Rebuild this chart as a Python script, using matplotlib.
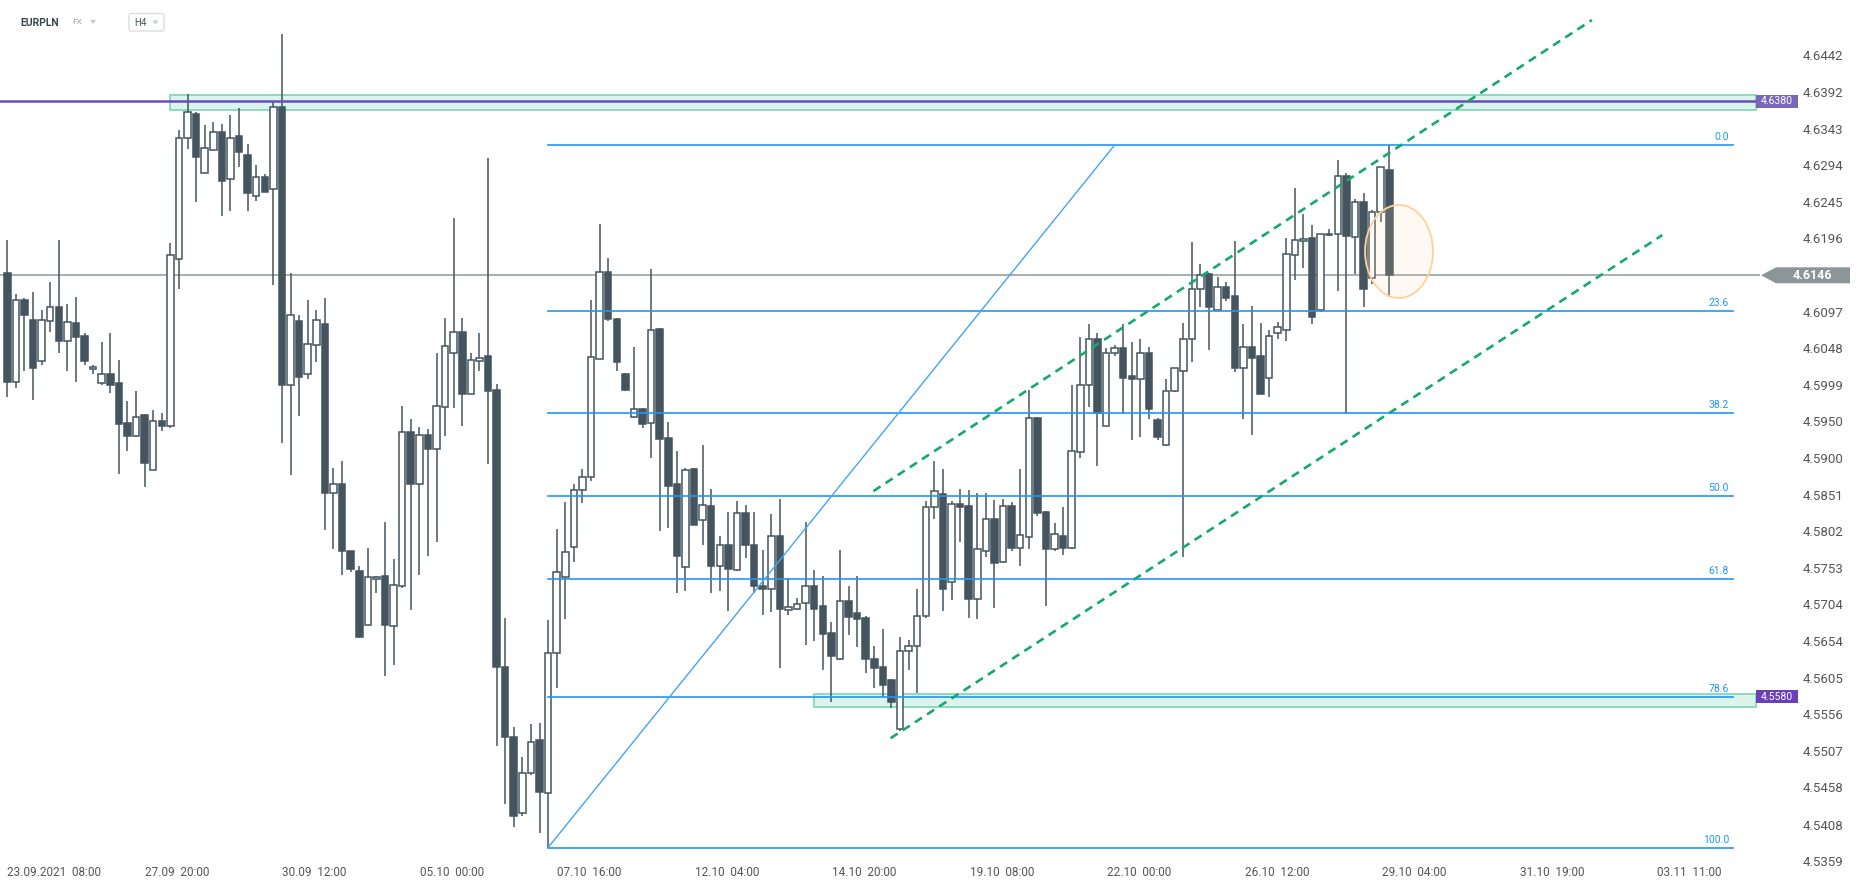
import matplotlib
matplotlib.use('Agg')
import matplotlib.pyplot as plt
from matplotlib.patches import Rectangle, Ellipse, Polygon, FancyBboxPatch
from matplotlib.transforms import blended_transform_factory

plt.rcParams['font.family'] = ['Roboto', 'DejaVu Sans']

# EURPLN H4 candles (oldest first)
opens = [4.6149, 4.6003, 4.6113, 4.6086, 4.6031, 4.6084, 4.6103, 4.6058, 4.6082, 4.6064,
         4.6020, 4.6001, 4.6014, 4.6001, 4.5947, 4.5930, 4.5958, 4.5885, 4.5950, 4.5943,
         4.6168, 4.6331, 4.6363, 4.6284, 4.6315, 4.6338, 4.6275, 4.6333, 4.6308, 4.6253,
         4.6278, 4.6262, 4.6372, 4.5999, 4.6085, 4.6013, 4.6052, 4.6080, 4.5854, 4.5865,
         4.5775, 4.5749, 4.5676, 4.5738, 4.5742, 4.5675, 4.5729, 4.5936, 4.5866, 4.5931,
         4.5913, 4.5969, 4.6042, 4.6070, 4.5987, 4.6031, 4.6037, 4.5992, 4.5619, 4.5526,
         4.5423, 4.5477, 4.5521, 4.5450, 4.5639, 4.5740, 4.5781, 4.5857, 4.5875, 4.6034,
         4.6150, 4.6087, 4.6014, 4.5955, 4.5966, 4.5947, 4.6074, 4.5928, 4.5866, 4.5754,
         4.5886, 4.5817, 4.5836, 4.5755, 4.5783, 4.5750, 4.5827, 4.5783, 4.5729, 4.5725,
         4.5795, 4.5696, 4.5698, 4.5706, 4.5728, 4.5701, 4.5665, 4.5630, 4.5708, 4.5692,
         4.5686, 4.5630, 4.5619, 4.5602, 4.5536, 4.5641, 4.5648, 4.5688, 4.5834, 4.5852,
         4.5734, 4.5838, 4.5836, 4.5711, 4.5776, 4.5819, 4.5761, 4.5836, 4.5780, 4.5794,
         4.5954, 4.5828, 4.5778, 4.5796, 4.5779, 4.5909, 4.5998, 4.6061, 4.5944, 4.6041,
         4.6048, 4.6011, 4.6006, 4.6041, 4.5951, 4.5918, 4.5990, 4.6017, 4.6060, 4.6128,
         4.6148, 4.6100, 4.6130, 4.6118, 4.6021, 4.6049, 4.6038, 4.6008, 4.6069, 4.6073,
         4.6173, 4.6192, 4.6196, 4.6100, 4.6200, 4.6201, 4.6280, 4.6197, 4.6245, 4.6142,
         4.6231, 4.6287]
highs = [4.6193, 4.6121, 4.6115, 4.6124, 4.6100, 4.6137, 4.6193, 4.6107, 4.6117, 4.6068,
         4.6025, 4.6057, 4.6069, 4.6032, 4.5977, 4.5991, 4.5959, 4.5965, 4.5961, 4.6190,
         4.6341, 4.6390, 4.6365, 4.6348, 4.6352, 4.6349, 4.6361, 4.6371, 4.6322, 4.6294,
         4.6282, 4.6380, 4.6470, 4.6149, 4.6093, 4.6113, 4.6100, 4.6116, 4.5887, 4.5896,
         4.5776, 4.5756, 4.5780, 4.5742, 4.5814, 4.5765, 4.5971, 4.5953, 4.5942, 4.5939,
         4.6041, 4.6088, 4.6223, 4.6088, 4.6041, 4.6069, 4.6304, 4.6000, 4.5685, 4.5539,
         4.5499, 4.5543, 4.5544, 4.5683, 4.5805, 4.5841, 4.5866, 4.5886, 4.6113, 4.6215,
         4.6169, 4.6088, 4.6015, 4.6049, 4.5967, 4.6155, 4.6075, 4.5949, 4.5910, 4.5887,
         4.5887, 4.5918, 4.5859, 4.5796, 4.5828, 4.5843, 4.5837, 4.5828, 4.5777, 4.5825,
         4.5845, 4.5739, 4.5713, 4.5815, 4.5750, 4.5742, 4.5680, 4.5777, 4.5728, 4.5742,
         4.5688, 4.5648, 4.5671, 4.5603, 4.5660, 4.5656, 4.5724, 4.5843, 4.5896, 4.5886,
         4.5843, 4.5859, 4.5858, 4.5854, 4.5854, 4.5844, 4.5846, 4.5842, 4.5886, 4.5992,
         4.5955, 4.5829, 4.5813, 4.5834, 4.5999, 4.6063, 4.6080, 4.6068, 4.6048, 4.6052,
         4.6080, 4.6056, 4.6060, 4.6050, 4.5954, 4.6006, 4.6022, 4.6082, 4.6191, 4.6161,
         4.6149, 4.6144, 4.6137, 4.6192, 4.6081, 4.6105, 4.6082, 4.6073, 4.6083, 4.6196,
         4.6263, 4.6228, 4.6214, 4.6202, 4.6208, 4.6301, 4.6284, 4.6248, 4.6257, 4.6234,
         4.6291, 4.6321]
lows = [4.5982, 4.5995, 4.6018, 4.5979, 4.6025, 4.6070, 4.6042, 4.6017, 4.6003, 4.6025,
        4.6013, 4.5998, 4.5988, 4.5879, 4.5910, 4.5929, 4.5862, 4.5884, 4.5937, 4.5941,
        4.6127, 4.6316, 4.6245, 4.6284, 4.6315, 4.6226, 4.6233, 4.6292, 4.6232, 4.6246,
        4.6258, 4.6133, 4.5920, 4.5878, 4.5957, 4.6006, 4.6030, 4.5804, 4.5778, 4.5743,
        4.5747, 4.5659, 4.5676, 4.5719, 4.5608, 4.5622, 4.5726, 4.5696, 4.5743, 4.5769,
        4.5787, 4.5930, 4.5968, 4.5944, 4.5986, 4.6018, 4.5893, 4.5514, 4.5435, 4.5404,
        4.5420, 4.5474, 4.5397, 4.5377, 4.5592, 4.5684, 4.5761, 4.5840, 4.5869, 4.6034,
        4.6084, 4.6018, 4.5991, 4.5954, 4.5941, 4.5900, 4.5802, 4.5807, 4.5719, 4.5722,
        4.5811, 4.5783, 4.5719, 4.5722, 4.5695, 4.5749, 4.5766, 4.5719, 4.5689, 4.5693,
        4.5618, 4.5690, 4.5696, 4.5649, 4.5654, 4.5615, 4.5572, 4.5629, 4.5663, 4.5647,
        4.5612, 4.5592, 4.5580, 4.5564, 4.5534, 4.5616, 4.5585, 4.5686, 4.5819, 4.5695,
        4.5709, 4.5787, 4.5685, 4.5684, 4.5767, 4.5699, 4.5760, 4.5775, 4.5756, 4.5778,
        4.5823, 4.5702, 4.5775, 4.5770, 4.5778, 4.5901, 4.5969, 4.5890, 4.5944, 4.6037,
        4.5960, 4.5924, 4.5929, 4.5953, 4.5925, 4.5917, 4.5989, 4.5768, 4.6029, 4.6104,
        4.6045, 4.6099, 4.6112, 4.6016, 4.5953, 4.5932, 4.5985, 4.5982, 4.6060, 4.6058,
        4.6140, 4.6156, 4.6081, 4.6096, 4.6199, 4.6125, 4.5959, 4.6148, 4.6104, 4.6134,
        4.6217, 4.6117]
closes = [4.6003, 4.6113, 4.6092, 4.6022, 4.6086, 4.6103, 4.6058, 4.6083, 4.6063, 4.6031,
          4.6023, 4.6014, 4.5999, 4.5946, 4.5930, 4.5956, 4.5894, 4.5950, 4.5943, 4.6173,
          4.6331, 4.6365, 4.6305, 4.6317, 4.6338, 4.6273, 4.6331, 4.6311, 4.6256, 4.6278,
          4.6258, 4.6372, 4.5999, 4.6093, 4.6009, 4.6054, 4.6086, 4.5854, 4.5865, 4.5775,
          4.5751, 4.5660, 4.5740, 4.5741, 4.5676, 4.5730, 4.5936, 4.5866, 4.5931, 4.5913,
          4.5971, 4.6051, 4.6070, 4.5987, 4.6032, 4.6035, 4.5991, 4.5619, 4.5525, 4.5420,
          4.5477, 4.5519, 4.5452, 4.5639, 4.5747, 4.5774, 4.5857, 4.5875, 4.6036, 4.6150,
          4.6087, 4.6029, 4.5992, 4.5966, 4.5946, 4.6073, 4.5926, 4.5863, 4.5769, 4.5885,
          4.5811, 4.5837, 4.5755, 4.5783, 4.5751, 4.5827, 4.5784, 4.5728, 4.5725, 4.5795,
          4.5698, 4.5700, 4.5704, 4.5728, 4.5698, 4.5664, 4.5635, 4.5708, 4.5687, 4.5684,
          4.5630, 4.5618, 4.5595, 4.5573, 4.5641, 4.5648, 4.5688, 4.5835, 4.5856, 4.5724,
          4.5838, 4.5834, 4.5711, 4.5778, 4.5819, 4.5759, 4.5836, 4.5779, 4.5797, 4.5954,
          4.5826, 4.5778, 4.5799, 4.5779, 4.5910, 4.5998, 4.6061, 4.5961, 4.6042, 4.6048,
          4.6008, 4.6006, 4.6041, 4.5966, 4.5929, 4.5990, 4.6021, 4.6061, 4.6127, 4.6147,
          4.6104, 4.6130, 4.6116, 4.6021, 4.6049, 4.6035, 4.5987, 4.6065, 4.6076, 4.6174,
          4.6193, 4.6195, 4.6090, 4.6201, 4.6202, 4.6280, 4.6199, 4.6244, 4.6128, 4.6231,
          4.6291, 4.6146]

first_date_label = '23.09.2021  08:00'
date_labels = ['27.09  20:00', '30.09  12:00', '05.10  00:00', '07.10  16:00',
               '12.10  04:00', '14.10  20:00', '19.10  08:00', '22.10  00:00',
               '26.10  12:00', '29.10  04:00', '31.10  19:00', '03.11  11:00']
price_ticks = [4.6442, 4.6392, 4.6343, 4.6294, 4.6245, 4.6196, 4.6097, 4.6048,
               4.5999, 4.5950, 4.5900, 4.5851, 4.5802, 4.5753, 4.5704, 4.5654,
               4.5605, 4.5556, 4.5507, 4.5458, 4.5408, 4.5359]

last_price = 4.6146
resistance = 4.6380
resistance_zone = (4.6368, 4.6388)
support = 4.5580
support_zone = (4.5566, 4.5584)

fib_levels = [0.0, 23.6, 38.2, 50.0, 61.8, 78.6, 100.0]
fib_high = 4.6321
fib_low = 4.5377
fib_low_bar = 63
fib_high_bar = 129.0

upper_channel_x = [100.9, 184.6]
upper_channel_y = [4.5856, 4.6489]
lower_channel_x = [102.9, 192.8]
lower_channel_y = [4.5524, 4.6200]

# layout (pixels)
W, H = 1866, 889
plot_right, plot_bottom = 1760, 862
bar_px, first_px = 8.584, 7.3
px_per_price = 7442.0

candle_col = '#44555f'
fib_col = '#2196f3'


def bx(px):
    """pixel column -> bar index"""
    return (px - first_px) / bar_px


fig = plt.figure(figsize=(W / 100, H / 100), dpi=100)
fig.patch.set_facecolor('white')
ax = fig.add_axes([0, (H - plot_bottom) / H, plot_right / W, plot_bottom / H])
ax.set_xlim(bx(0), bx(plot_right))
ax.set_ylim(4.6442 - (plot_bottom - 55) / px_per_price, 4.6442 + 55 / px_per_price)
for s in ax.spines.values():
    s.set_visible(False)

# candles
for i, (o, h, l, c) in enumerate(zip(opens, highs, lows, closes)):
    bull = c >= o
    ax.vlines(i, l, h, color=candle_col, lw=1.1, zorder=3)
    lo = min(o, c)
    hgt = max(abs(c - o), 0.00006)
    ax.add_patch(Rectangle((i - 0.38, lo), 0.76, hgt,
                           facecolor='white' if bull else candle_col,
                           edgecolor=candle_col, lw=1.1, zorder=4))

# zones and levels
zone_end = bx(1756)
ax.add_patch(Rectangle((bx(170), resistance_zone[0]), zone_end - bx(170),
                       resistance_zone[1] - resistance_zone[0],
                       facecolor='#d8f4ea', edgecolor='#6fd3ad', lw=1.2, alpha=0.9, zorder=2))
ax.add_patch(Rectangle((bx(814), support_zone[0]), zone_end - bx(814),
                       support_zone[1] - support_zone[0],
                       facecolor='#d8f4ea', edgecolor='#6fd3ad', lw=1.2, alpha=0.9, zorder=2))
ax.plot([bx(0), zone_end], [resistance, resistance], color='#6a4cc0', lw=1.8, zorder=5)
ax.axhline(last_price, color='#8e999d', lw=1.1, zorder=2.5)

# fibonacci retracement
rng = fib_high - fib_low
fib_end = bx(1733)
for lev in fib_levels:
    p = fib_high - lev / 100 * rng
    ax.plot([fib_low_bar, fib_end], [p, p], color=fib_col, lw=1.2, zorder=5)
    ax.text(bx(1729), p + 3 / px_per_price, '%.1f' % lev, color=fib_col, fontsize=7.5,
            ha='right', va='bottom', zorder=6)
ax.plot([fib_low_bar, fib_high_bar], [fib_low, fib_high], color='#42a5f5', lw=1.0, zorder=5)

# trend channel
ax.plot(upper_channel_x, upper_channel_y, color='#17a86b', lw=1.9, dashes=(3.2, 2.3), zorder=6)
ax.plot(lower_channel_x, lower_channel_y, color='#17a86b', lw=1.9, dashes=(3.2, 2.3), zorder=6)

# highlight ellipse (translucent fill, solid edge)
ell_xy = (bx(1399), 4.6178)
ax.add_patch(Ellipse(ell_xy, 68 / bar_px, 93 / px_per_price,
                     facecolor=(1.0, 0.84, 0.67, 0.14), edgecolor='none', zorder=7))
ax.add_patch(Ellipse(ell_xy, 68 / bar_px, 93 / px_per_price,
                     facecolor='none', edgecolor='#fbd39a', lw=1.3, zorder=7))

# axes ticks
ax.yaxis.tick_right()
ax.set_yticks(price_ticks)
ax.set_yticklabels(['%.4f' % t for t in price_ticks])
ax.tick_params(axis='y', length=0, pad=31, labelsize=9.5, labelcolor='#555555')
ax.set_xticks([bx(177 + 137.5 * k) for k in range(len(date_labels))])
ax.set_xticklabels(date_labels)
ax.tick_params(axis='x', length=0, pad=3, labelsize=8.5, labelcolor='#555555')
ax.text(7 / plot_right, -10 / plot_bottom, first_date_label, transform=ax.transAxes,
        ha='left', va='center', fontsize=8.5, color='#555555')

# price tags on the right
tr = blended_transform_factory(ax.transAxes, ax.transData)
hh = 6.5 / px_per_price
for val, col in [(resistance, '#7a67b6'), (support, '#6b3fb8')]:
    ax.add_patch(Rectangle((1756 / plot_right, val - hh), 42 / plot_right, 2 * hh,
                           transform=tr, clip_on=False, facecolor=col, edgecolor='none', zorder=8))
    ax.text(1777 / plot_right, val, '%.4f' % val, transform=tr, ha='center', va='center',
            color='white', fontsize=7.5, zorder=9, clip_on=False)
th = 8 / px_per_price
ax.add_patch(Polygon([(1761 / plot_right, last_price), (1776 / plot_right, last_price + th),
                      (1850 / plot_right, last_price + th), (1850 / plot_right, last_price - th),
                      (1776 / plot_right, last_price - th)],
                     closed=True, transform=tr, clip_on=False, facecolor='#8c9699',
                     edgecolor='none', zorder=8))
ax.text(1812 / plot_right, last_price, '%.4f' % last_price, transform=tr, ha='center',
        va='center', color='white', fontsize=9, fontweight='bold', zorder=9, clip_on=False)

# header
hdr = fig.add_axes([0, 0, 1, 1], zorder=10)
hdr.set_xlim(0, W)
hdr.set_ylim(H, 0)
hdr.axis('off')
hdr.patch.set_alpha(0)
hdr.text(20.5, 22.5, 'EURPLN', fontsize=7.5, fontweight='bold', color='#37474f', va='center')
hdr.text(72.5, 22.5, 'FX', fontsize=6, color='#90a4ae', va='center')
hdr.add_patch(Polygon([[90, 20], [96, 20], [93, 24]], closed=True, facecolor='#c5cdd1', edgecolor='none'))
hdr.add_patch(FancyBboxPatch((129, 13.5), 35, 17.5, boxstyle='round,pad=0,rounding_size=2',
                             facecolor='white', edgecolor='#dddddd', lw=1))
hdr.text(134.5, 22.5, 'H4', fontsize=7, color='#455a64', va='center')
hdr.add_patch(Polygon([[152.5, 20.5], [158.5, 20.5], [155.5, 24.5]], closed=True,
                      facecolor='#c5cdd1', edgecolor='none'))

fig.savefig('out.png', dpi=100, facecolor='white')
